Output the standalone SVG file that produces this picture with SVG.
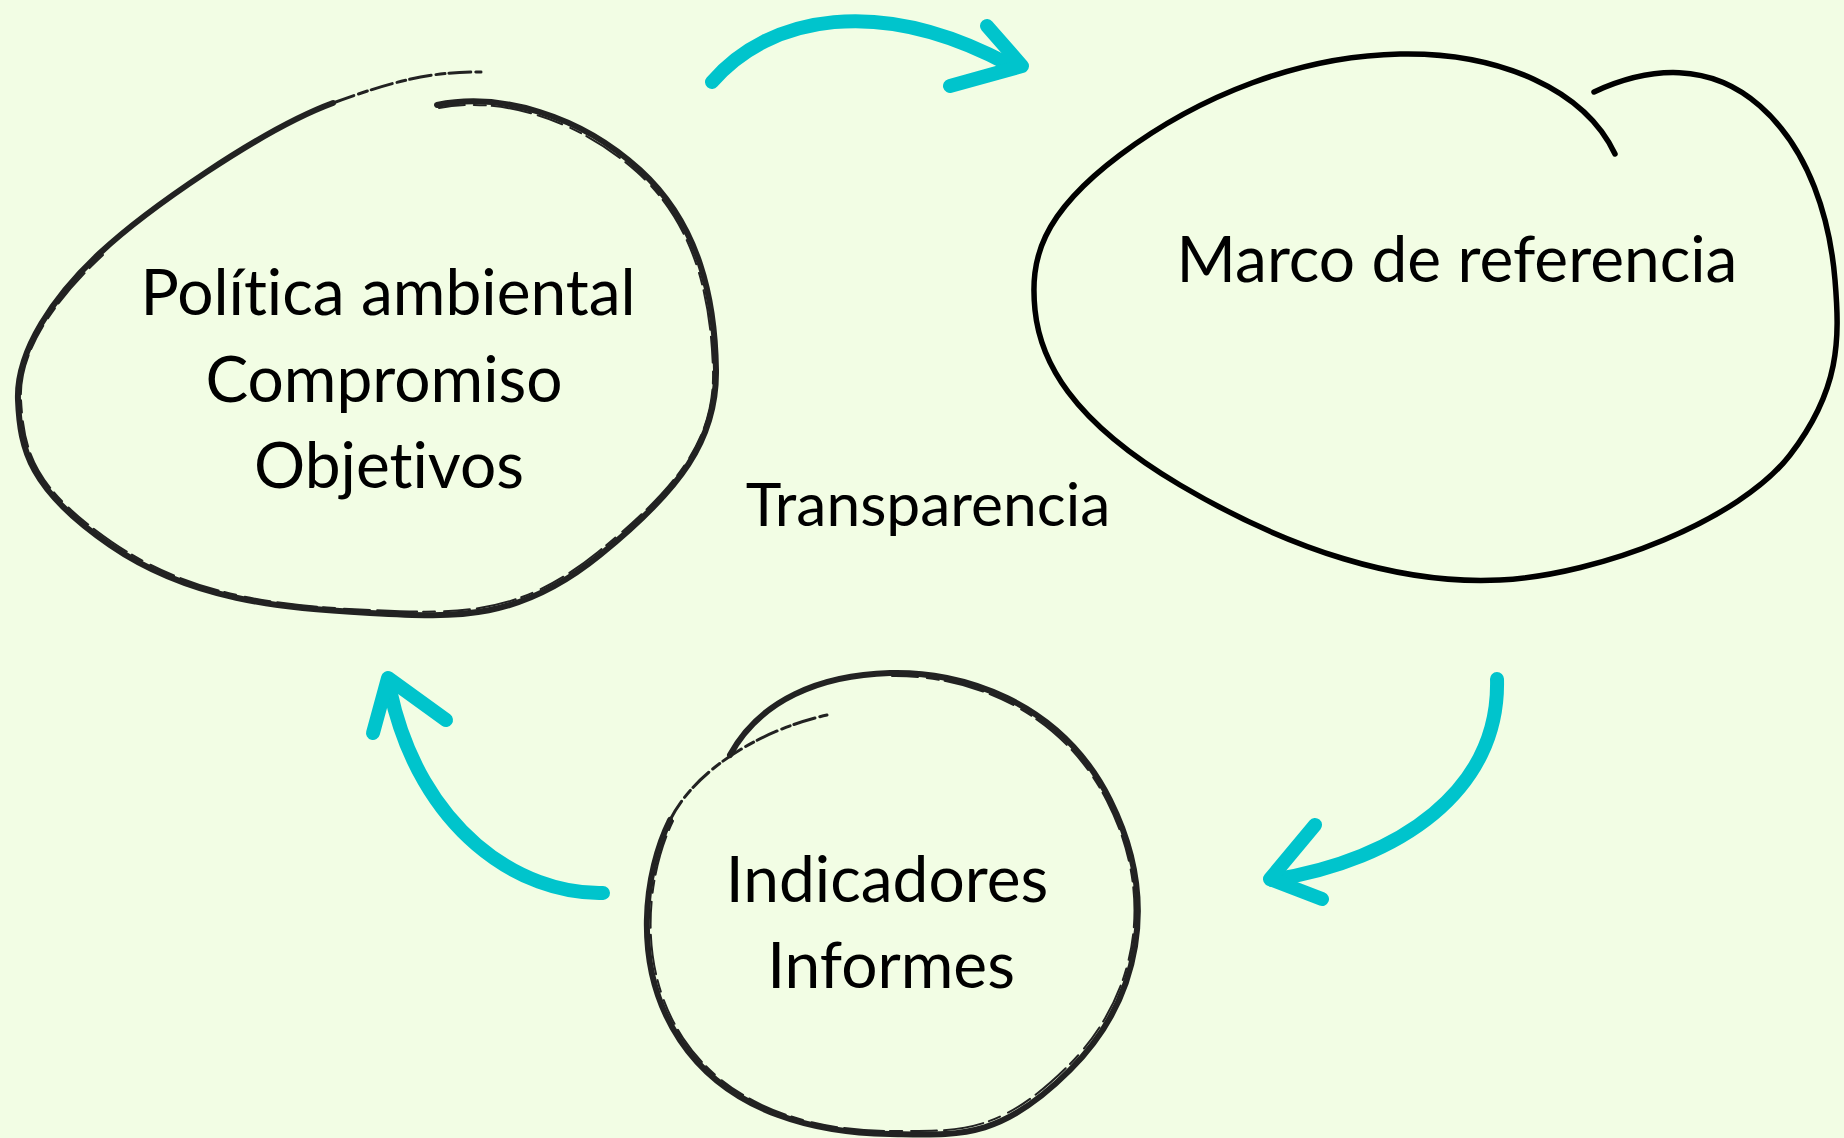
<svg xmlns="http://www.w3.org/2000/svg" width="1844" height="1138" viewBox="0 0 1844 1138">
<style>
.bg{fill:#F2FDE4}
.lbl{font-family:Lato,"Open Sans","Liberation Sans",sans-serif;font-size:64px;fill:#000;text-anchor:middle;font-variant-ligatures:none;font-feature-settings:"liga" 0,"clig" 0}
.small{font-size:60.5px}
.sketch{fill:none;stroke:#222;stroke-width:6;stroke-linecap:round;stroke-linejoin:round}
.rough{fill:none;stroke:#222;stroke-width:2;stroke-linecap:round;stroke-dasharray:26 9 12 6 40 7}
.tail{fill:none;stroke:#222;stroke-width:3;stroke-linecap:round;stroke-dasharray:22 5 9 4}
.clean{fill:none;stroke:#000;stroke-width:5.5;stroke-linecap:round;stroke-linejoin:round}
.shaft{fill:none;stroke:#00C4CC;stroke-width:14;stroke-linecap:round}
.head{fill:none;stroke:#00C4CC;stroke-width:14;stroke-linecap:round;stroke-linejoin:round}
</style>
<rect class="bg" x="0" y="0" width="1844" height="1138"/>

<g id="connectors">
  <g id="arrow-top">
    <path class="shaft" d="M 712 82 C 770 15, 880 -5, 1010 65"/>
    <path class="head" d="M 987 26 L 1022 66 L 950 86"/>
  </g>
  <g id="arrow-right">
    <path class="shaft" d="M 1497 679 C 1500 790, 1400 860, 1272 880"/>
    <path class="head" d="M 1315 825 L 1270 879 L 1322 899"/>
  </g>
  <g id="arrow-left">
    <path class="shaft" d="M 603 893 C 520 895, 420 830, 390 690"/>
    <path class="head" d="M 373 733 L 388 678 L 446 720"/>
  </g>
</g>

<g id="node-politica">
  <path class="sketch" d="M 437 105 C 500 92, 580 115, 640 170 S 715 300, 716 370 S 680 490, 600 555 S 460 618, 370 613 S 190 600, 110 545 S 20 450, 18 400 S 55 295, 100 253 S 260 130, 333 103"/>
  <path class="rough" d="M 439 108 C 500 96, 578 119, 637 172 S 711 300, 713 370 S 677 488, 598 552 S 460 614, 370 610 S 192 597, 112 542 S 24 450, 21 400 S 58 297, 103 255"/>
  <path class="tail" d="M 333 103 C 406 76, 440 72, 481 72"/>
  <text class="lbl" x="388" y="315">Política ambiental</text>
  <text class="lbl" x="384" y="402">Compromiso</text>
  <text class="lbl" x="389" y="488">Objetivos</text>
</g>

<g id="node-marco">
  <path class="clean" d="M 1615 154 C 1585 90, 1500 52, 1400 54 S 1200 95, 1120 155 S 1030 260, 1035 310 S 1070 420, 1180 485 S 1400 585, 1500 580 S 1740 520, 1790 455 S 1840 340, 1835 280 S 1810 150, 1760 106 S 1650 66, 1594 92"/>
  <text class="lbl" x="1457" y="282">Marco de referencia</text>
</g>

<g id="node-indicadores">
  <path class="sketch" d="M 730 755 C 760 700, 820 675, 890 673 S 1060 700, 1110 800 S 1140 1000, 1070 1070 S 960 1135, 890 1134 S 730 1115, 680 1040 S 645 870, 670 820"/>
  <path class="rough" d="M 892 676 C 960 675, 1057 703, 1107 801 S 1136 999, 1067 1067 S 959 1131, 890 1131 S 732 1112, 683 1038 S 649 870, 673 821"/>
  <path class="tail" d="M 670 820 C 695 770, 760 730, 827 715"/>
  <text class="lbl" x="887" y="902">Indicadores</text>
  <text class="lbl" x="891" y="988">Informes</text>
</g>

<g id="label-transparencia">
  <text class="lbl small" x="928" y="526">Transparencia</text>
</g>
</svg>
